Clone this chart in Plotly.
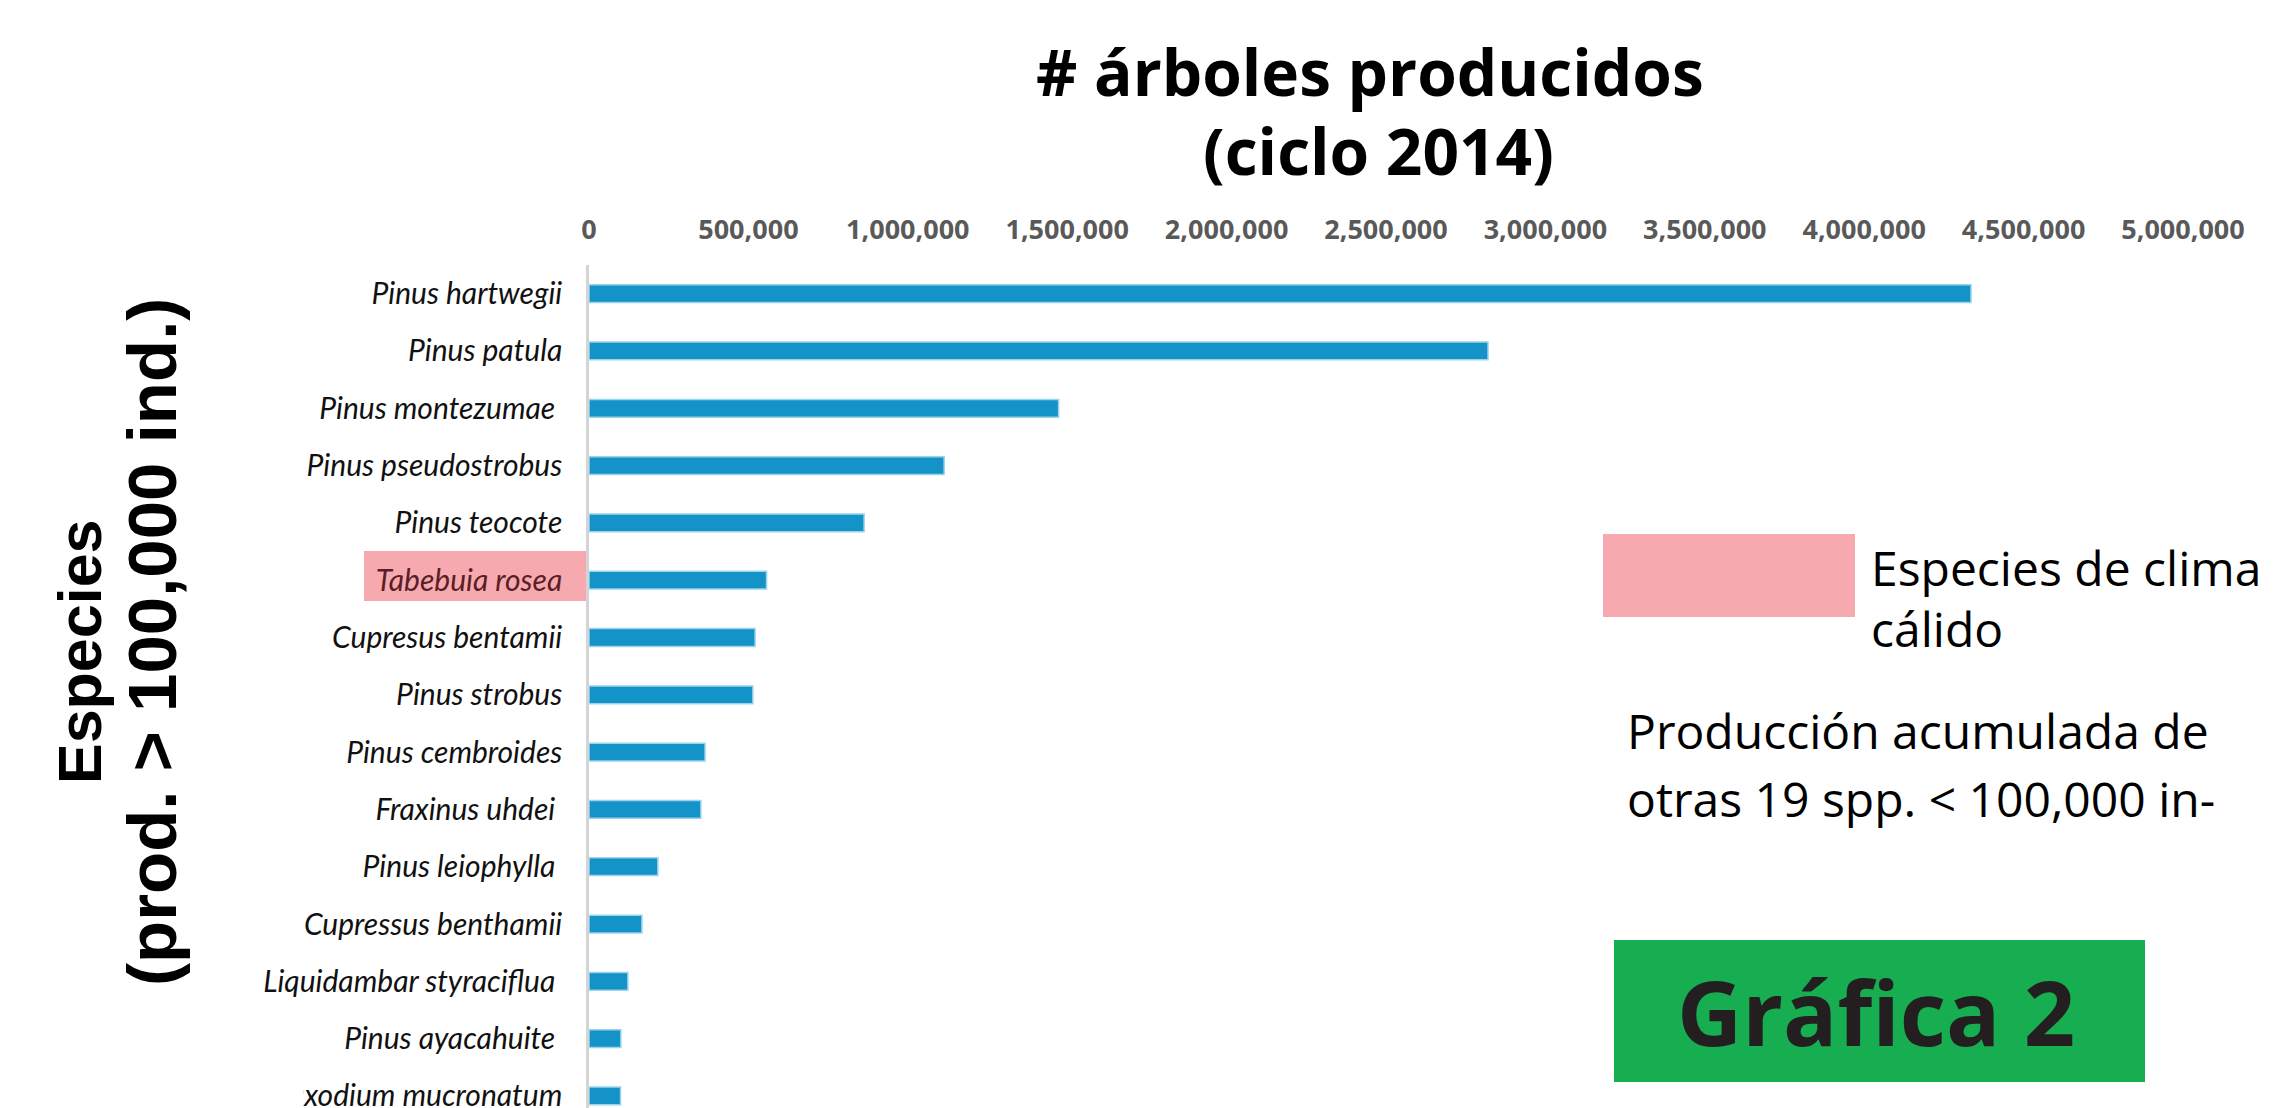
import plotly.graph_objects as go

# ---------------- data ----------------
species = [
    "Pinus hartwegii", "Pinus patula", "Pinus montezumae", "Pinus pseudostrobus",
    "Pinus teocote", "Tabebuia rosea", "Cupresus bentamii", "Pinus strobus",
    "Pinus cembroides", "Fraxinus uhdei", "Pinus leiophylla", "Cupressus benthamii",
    "Liquidambar styraciflua", "Pinus ayacahuite", "Taxodium mucronatum",
]
produccion = [
    4335000, 2820000, 1473000, 1114000, 863000, 557000, 521000, 514000,
    364000, 351000, 216000, 166000, 122000, 100000, 99000,
]
x_tick_vals = [0, 500000, 1000000, 1500000, 2000000, 2500000,
               3000000, 3500000, 4000000, 4500000, 5000000]
warm_species = ["Tabebuia rosea"]
trailing_space = ["Pinus montezumae", "Fraxinus uhdei", "Pinus leiophylla",
                  "Liquidambar styraciflua", "Pinus ayacahuite"]

# ---------------- layout geometry ----------------
W, H = 2274, 1108
L, R, T, B = 589, 91, 265, 0
PW, PH = W - L - R, H - T - B


def px(x):
    return (x - L) / PW


def py(y):
    return (H - B - y) / PH


tick_text = []
for s in species:
    t = s
    if s in trailing_space:
        t = s + "\u00a0"
    if s in warm_species:
        t = '<span style="color:#5a1e26">' + t + "</span>"
    tick_text.append(t)

fig = go.Figure()
fig.add_trace(go.Bar(
    x=produccion, y=species, orientation="h",
    width=0.31,
    marker=dict(color="#1493C8", line=dict(color="#9bd3ec", width=1.5)),
    hoverinfo="x+y",
))

fig.update_layout(
    width=W, height=H,
    margin=dict(l=L, r=R, t=T, b=B, autoexpand=False),
    paper_bgcolor="white", plot_bgcolor="white",
    showlegend=False,
    bargap=0.5,
    xaxis=dict(
        side="top", range=[0, 5000000], tickvals=x_tick_vals,
        tickformat=",d", showgrid=False, zeroline=False, showline=False,
        ticks="", ticklabelstandoff=20,
        tickfont=dict(family="Open Sans", size=27, color="#595959", weight="bold"),
        automargin=False, fixedrange=True,
    ),
    yaxis=dict(
        categoryorder="array", categoryarray=species,
        range=[14.21, -0.5], tickvals=species, ticktext=tick_text,
        showgrid=False, zeroline=False, showline=True,
        linecolor="#D4D4D4", linewidth=2.5, ticks="", ticklabelstandoff=18,
        tickfont=dict(family="Lato", size=30, color="#111111", style="italic"),
        automargin=False, fixedrange=True,
    ),
)

shapes = []
# pink highlight behind Tabebuia rosea label
shapes.append(dict(type="rect", xref="paper", yref="paper",
                   x0=px(364), x1=px(588), y0=py(601), y1=py(551),
                   fillcolor="#F6AAB0", line=dict(width=0), layer="below"))
# legend pink box
shapes.append(dict(type="rect", xref="paper", yref="paper",
                   x0=px(1603), x1=px(1855), y0=py(617), y1=py(534),
                   fillcolor="#F6AAB0", line=dict(width=0), layer="below"))
# green label box
shapes.append(dict(type="rect", xref="paper", yref="paper",
                   x0=px(1614), x1=px(2145), y0=py(1082), y1=py(940),
                   fillcolor="#17AE51", line=dict(width=0), layer="above"))
# white cover clipping the left of the last label (as in the reference)
shapes.append(dict(type="rect", xref="paper", yref="paper",
                   x0=px(200), x1=px(303), y0=py(1108), y1=py(1072),
                   fillcolor="white", line=dict(width=0), layer="above"))
fig.update_layout(shapes=shapes)

ann = []
title_font = dict(family="Open Sans", size=64, color="#000000", weight="bold")
ann.append(dict(text="# árboles producidos", x=px(1370), y=py(72),
                xref="paper", yref="paper", showarrow=False,
                xanchor="center", yanchor="middle", font=title_font))
ann.append(dict(text="(ciclo 2014)", x=px(1378), y=py(150),
                xref="paper", yref="paper", showarrow=False,
                xanchor="center", yanchor="middle", font=title_font))

ann.append(dict(text="Especies", x=px(80), y=py(652), textangle=-90,
                xref="paper", yref="paper", showarrow=False,
                xanchor="center", yanchor="middle",
                font=dict(family="Liberation Sans", size=61, color="#000000", weight="bold")))
ann.append(dict(text="(prod. &gt; 100,000 ind.)", x=px(152), y=py(642), textangle=-90,
                xref="paper", yref="paper", showarrow=False,
                xanchor="center", yanchor="middle",
                font=dict(family="Liberation Sans", size=69, color="#000000", weight="bold")))

body_font = dict(family="Open Sans", size=48, color="#000000")
ann.append(dict(text="Especies de clima", x=px(1869), y=py(567),
                xref="paper", yref="paper", showarrow=False,
                xanchor="left", yanchor="middle", font=body_font))
ann.append(dict(text="cálido", x=px(1869), y=py(628),
                xref="paper", yref="paper", showarrow=False,
                xanchor="left", yanchor="middle", font=body_font))
ann.append(dict(text="Producción acumulada de", x=px(1625), y=py(730),
                xref="paper", yref="paper", showarrow=False,
                xanchor="left", yanchor="middle", font=body_font))
ann.append(dict(text="otras 19 spp. &lt; 100,000 in-", x=px(1625), y=py(798),
                xref="paper", yref="paper", showarrow=False,
                xanchor="left", yanchor="middle", font=body_font))

ann.append(dict(text="Gráfica 2", x=px(1876), y=py(1011),
                xref="paper", yref="paper", showarrow=False,
                xanchor="center", yanchor="middle",
                font=dict(family="Open Sans", size=90, color="#231F20", weight="bold")))
fig.update_layout(annotations=ann)

fig.write_html("out.html")
